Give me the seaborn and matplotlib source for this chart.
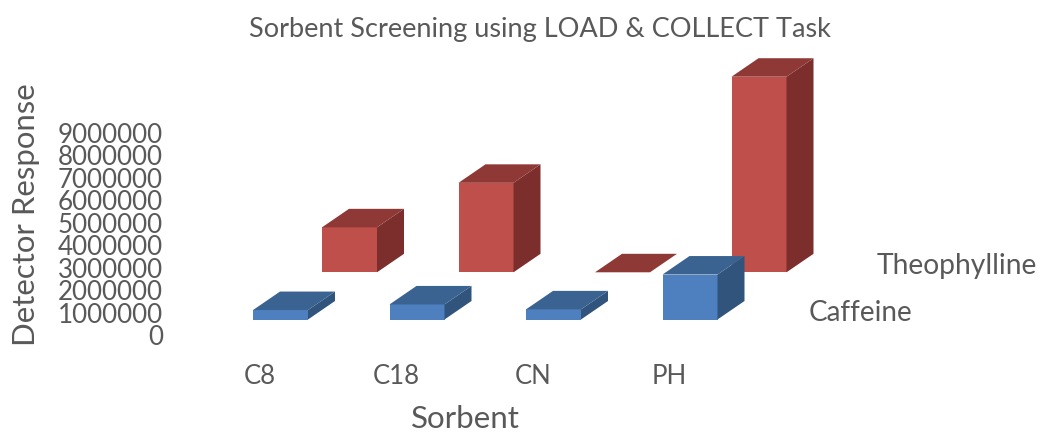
import numpy as np
import matplotlib
matplotlib.use("Agg")
import matplotlib.pyplot as plt
import seaborn as sns
from matplotlib.patches import Polygon

sorbents = ["C8", "C18", "CN", "PH"]
caffeine = [420000, 670000, 450000, 2000000]
theophylline = [2000000, 3980000, 0, 8700000]
y_ticks = [0, 1000000, 2000000, 3000000, 4000000, 5000000, 6000000, 7000000, 8000000, 9000000]

W, H = 1040, 432
sns.set_theme(style="white")
plt.rcParams["font.family"] = ["Lato", "DejaVu Sans"]
GREY = "#595959"

fig = plt.figure(figsize=(W / 100, H / 100), dpi=100, facecolor="white")
L, R, T, B = 170, 850, 40, 335
ax = fig.add_axes([L / W, 1 - B / H, (R - L) / W, (B - T) / H])

PX_X, PX_Y = 136.5, 22.48e-6
DX, DY = 27 / PX_X, 18.5 / PX_Y
BAR = 55 / PX_X
positions = np.arange(len(sorbents), dtype=float)


def bars3d(values, offset, base, front, side, top):
    x = positions + offset
    vals = np.asarray(values, dtype=float)
    sns.barplot(x=x, y=vals, native_scale=True, width=BAR, bottom=base, color=front,
                saturation=1, errorbar=None, linewidth=0, ax=ax, zorder=3)
    for xi, v in zip(x, vals):
        x0, x1 = xi - BAR / 2, xi + BAR / 2
        y0, y1 = base, base + v
        if v > 0:
            ax.add_patch(Polygon([(x1, y0), (x1 + DX, y0 + DY), (x1 + DX, y1 + DY), (x1, y1)],
                                 fc=side, ec="none", zorder=3))
        ax.add_patch(Polygon([(x0, y1), (x1, y1), (x1 + DX, y1 + DY), (x0 + DX, y1 + DY)],
                             fc=top, ec="none", zorder=3))


# back row first so the front row overlaps it
bars3d(theophylline, 69 / PX_X, 62.7 / PX_Y, "#BE4F4B", "#7B2E2B", "#8F3937")
bars3d(caffeine, 0.0, 15.5 / PX_Y, "#4E7FBF", "#31547D", "#3A6391")

ax.set_xlim((L - 280.5) / PX_X, (R - 280.5) / PX_X)
ax.set_ylim(0, (B - T) / PX_Y)
sns.despine(ax=ax, left=True, bottom=True)
ax.set_yticks(y_ticks)
ax.set_yticklabels([str(v) for v in y_ticks], fontsize=18.7, color=GREY)
ax.set_xticks(positions - 20.5 / PX_X)
ax.set_xticklabels(sorbents, fontsize=18.5, color=GREY)
ax.tick_params(axis="both", length=0)
ax.tick_params(axis="x", pad=21)
ax.tick_params(axis="y", pad=5)
ax.grid(False)

to_ax = lambda px, py: ((px - L) / (R - L), (B - py) / (B - T))
ax.set_xlabel("Sorbent", fontsize=22.5, color=GREY)
ax.xaxis.set_label_coords(*to_ax(465, 419))
ax.xaxis.label.set_verticalalignment("center")
ax.set_ylabel("Detector Response", fontsize=22.4, color=GREY)
ax.yaxis.set_label_coords(*to_ax(26, 215))
ax.yaxis.label.set_verticalalignment("center")

ax.text(*to_ax(540, 29), "Sorbent Screening using LOAD & COLLECT Task", transform=ax.transAxes,
        fontsize=19.5, color=GREY, ha="center", va="center", clip_on=False)
ax.text(*to_ax(877, 266), "Theophylline", transform=ax.transAxes,
        fontsize=20.3, color=GREY, ha="left", va="center", clip_on=False)
ax.text(*to_ax(809, 313), "Caffeine", transform=ax.transAxes,
        fontsize=20, color=GREY, ha="left", va="center", clip_on=False)

fig.savefig("out.png", dpi=100, facecolor="white")
